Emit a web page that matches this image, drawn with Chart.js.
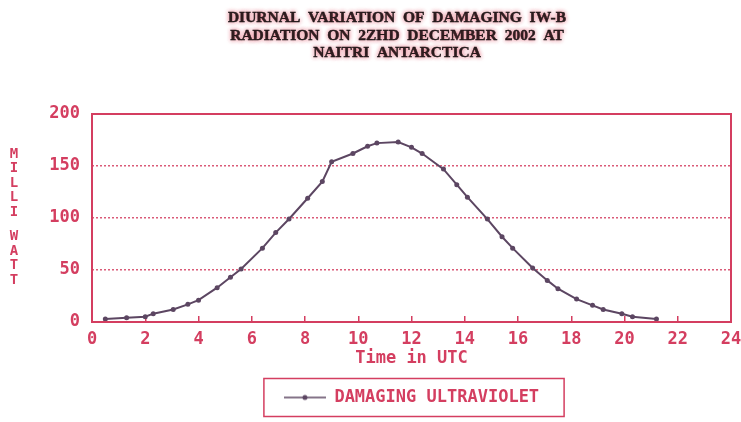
<!DOCTYPE html>
<html>
<head>
<meta charset="utf-8">
<script src="https://cdn.jsdelivr.net/npm/chart.js@4"></script>
<style>
  body { margin: 0; background: #fff; }
  #wrap { width: 741px; height: 422px; }
</style>
</head>
<body>
<div id="wrap"><canvas id="uvChart" width="741" height="422"></canvas></div>
<script>
// Chart data
const titleLines = [
    'DIURNAL  VARIATION  OF  DAMAGING  IW-B',
    'RADIATION  ON  2ZHD  DECEMBER  2002  AT',
    'NAITRI  ANTARCTICA'
];
const yAxisLetters = ['M', 'I', 'L', 'L', 'I', '', 'W', 'A', 'T', 'T'];
const xTickValues = [0, 2, 4, 6, 8, 10, 12, 14, 16, 18, 20, 22, 24];
const yTickValues = [0, 50, 100, 150, 200];
const hours = [0.5, 1.3, 2.0, 2.3, 3.05, 3.6, 4.0, 4.7, 5.2, 5.6, 6.4, 6.9, 7.4, 8.1, 8.65, 9.0,
    9.8, 10.35, 10.7, 11.5, 12.0, 12.4, 13.2, 13.7, 14.1, 14.85, 15.4, 15.8, 16.55, 17.1, 17.5,
    18.2, 18.8, 19.2, 19.9, 20.3, 21.2];
const uvValues = [3, 4, 5, 8, 12, 17, 21, 33, 43, 51, 71, 86, 99, 119, 135, 154,
    162, 169, 172, 173, 168, 162, 147, 132, 120, 99, 82, 71, 52, 40, 32,
    22, 16, 12, 8, 5, 3];

const RED = 'rgb(212, 62, 96)';
const LINE = 'rgb(92, 70, 98)';
const MONO = "'DejaVu Sans Mono', 'Liberation Mono', monospace";

// legend marker: short line with a dot
function makeLegendMarker() {
    const c = document.createElement('canvas');
    c.width = 42;
    c.height = 10;
    const g = c.getContext('2d');
    g.strokeStyle = LINE;
    g.lineWidth = 1.5;
    g.beginPath();
    g.moveTo(0, 5);
    g.lineTo(42, 5);
    g.stroke();
    g.fillStyle = LINE;
    g.beginPath();
    g.arc(21, 5, 2.5, 0, Math.PI * 2);
    g.fill();
    return c;
}

// title, y label, frame and legend border
const decorPlugin = {
    id: 'decor',
    afterDatasetsDraw(chart) {
        const ctx = chart.ctx;
        const a = chart.chartArea;
        ctx.save();
        ctx.strokeStyle = RED;
        ctx.lineWidth = 2;
        ctx.strokeRect(a.left, a.top, a.right - a.left, a.bottom - a.top);
        ctx.restore();
    },
    afterDraw(chart) {
        const ctx = chart.ctx;
        ctx.save();
        ctx.textAlign = 'center';
        ctx.textBaseline = 'middle';
        ctx.font = "bold 15.5px 'Liberation Serif', 'DejaVu Serif', serif";
        ctx.fillStyle = '#111';
        ctx.strokeStyle = '#111';
        ctx.lineWidth = 0.4;
        ctx.shadowColor = 'rgba(225, 90, 110, 0.9)';
        ctx.shadowBlur = 4;
        titleLines.forEach((t, i) => {
            ctx.fillText(t, 397, 18 + i * 17.5);
            ctx.strokeText(t, 397, 18 + i * 17.5);
        });
        ctx.shadowBlur = 0;
        ctx.shadowColor = 'transparent';

        ctx.font = 'bold 14px ' + MONO;
        ctx.fillStyle = RED;
        let y = 154;
        yAxisLetters.forEach(ch => {
            if (ch) {
                ctx.fillText(ch, 14, y);
                y += 14.5;
            } else {
                y += 10;
            }
        });

        const box = chart.legend.legendHitBoxes[0];
        if (box) {
            ctx.strokeStyle = RED;
            ctx.lineWidth = 1.5;
            ctx.strokeRect(box.left - 20, box.top + box.height / 2 - 19, box.width + 45, 38);
        }
        ctx.restore();
    }
};

const ctx = document.getElementById('uvChart').getContext('2d');
new Chart(ctx, {
    type: 'line',
    data: {
        datasets: [{
            label: 'DAMAGING ULTRAVIOLET',
            data: hours.map((h, i) => ({ x: h, y: uvValues[i] })),
            borderColor: LINE,
            borderWidth: 2,
            pointRadius: 2.5,
            pointBackgroundColor: LINE,
            pointBorderColor: LINE,
            pointBorderWidth: 0,
            tension: 0
        }]
    },
    options: {
        responsive: false,
        animation: false,
        layout: { padding: { top: 114, right: 10, bottom: 6, left: 0 } },
        plugins: {
            title: { display: false },
            tooltip: { enabled: false },
            legend: {
                display: true,
                position: 'bottom',
                fullSize: false,
                labels: {
                    usePointStyle: true,
                    pointStyle: makeLegendMarker(),
                    pointStyleWidth: 42,
                    color: RED,
                    font: { family: MONO, size: 17, weight: 'bold' },
                    padding: 10
                }
            }
        },
        scales: {
            x: {
                type: 'linear',
                min: 0,
                max: 24,
                afterBuildTicks: s => { s.ticks = xTickValues.map(v => ({ value: v })); },
                afterFit: s => {
                    s.height = 57;
                    s.paddingLeft = 0;
                    s.paddingRight = 0;
                },
                grid: {
                    display: true,
                    drawOnChartArea: false,
                    drawTicks: true,
                    tickLength: -6,
                    color: RED,
                    lineWidth: 1.5
                },
                border: { display: false },
                ticks: {
                    color: RED,
                    padding: 13,
                    maxRotation: 0,
                    font: { family: MONO, size: 17, weight: 'bold' }
                },
                title: {
                    display: true,
                    text: 'Time in UTC',
                    color: RED,
                    padding: { top: 0, bottom: 10 },
                    font: { family: MONO, size: 17, weight: 'bold' }
                }
            },
            y: {
                min: 0,
                max: 200,
                afterBuildTicks: s => { s.ticks = yTickValues.map(v => ({ value: v })); },
                afterFit: s => { s.width = 92; },
                grid: {
                    drawTicks: false,
                    color: 'rgba(212, 62, 96, 0.85)',
                    lineWidth: 1.5
                },
                border: { display: false, dash: [2, 2] },
                ticks: {
                    color: RED,
                    padding: 12,
                    font: { family: MONO, size: 17, weight: 'bold' }
                }
            }
        }
    },
    plugins: [decorPlugin]
});
</script>
</body>
</html>
